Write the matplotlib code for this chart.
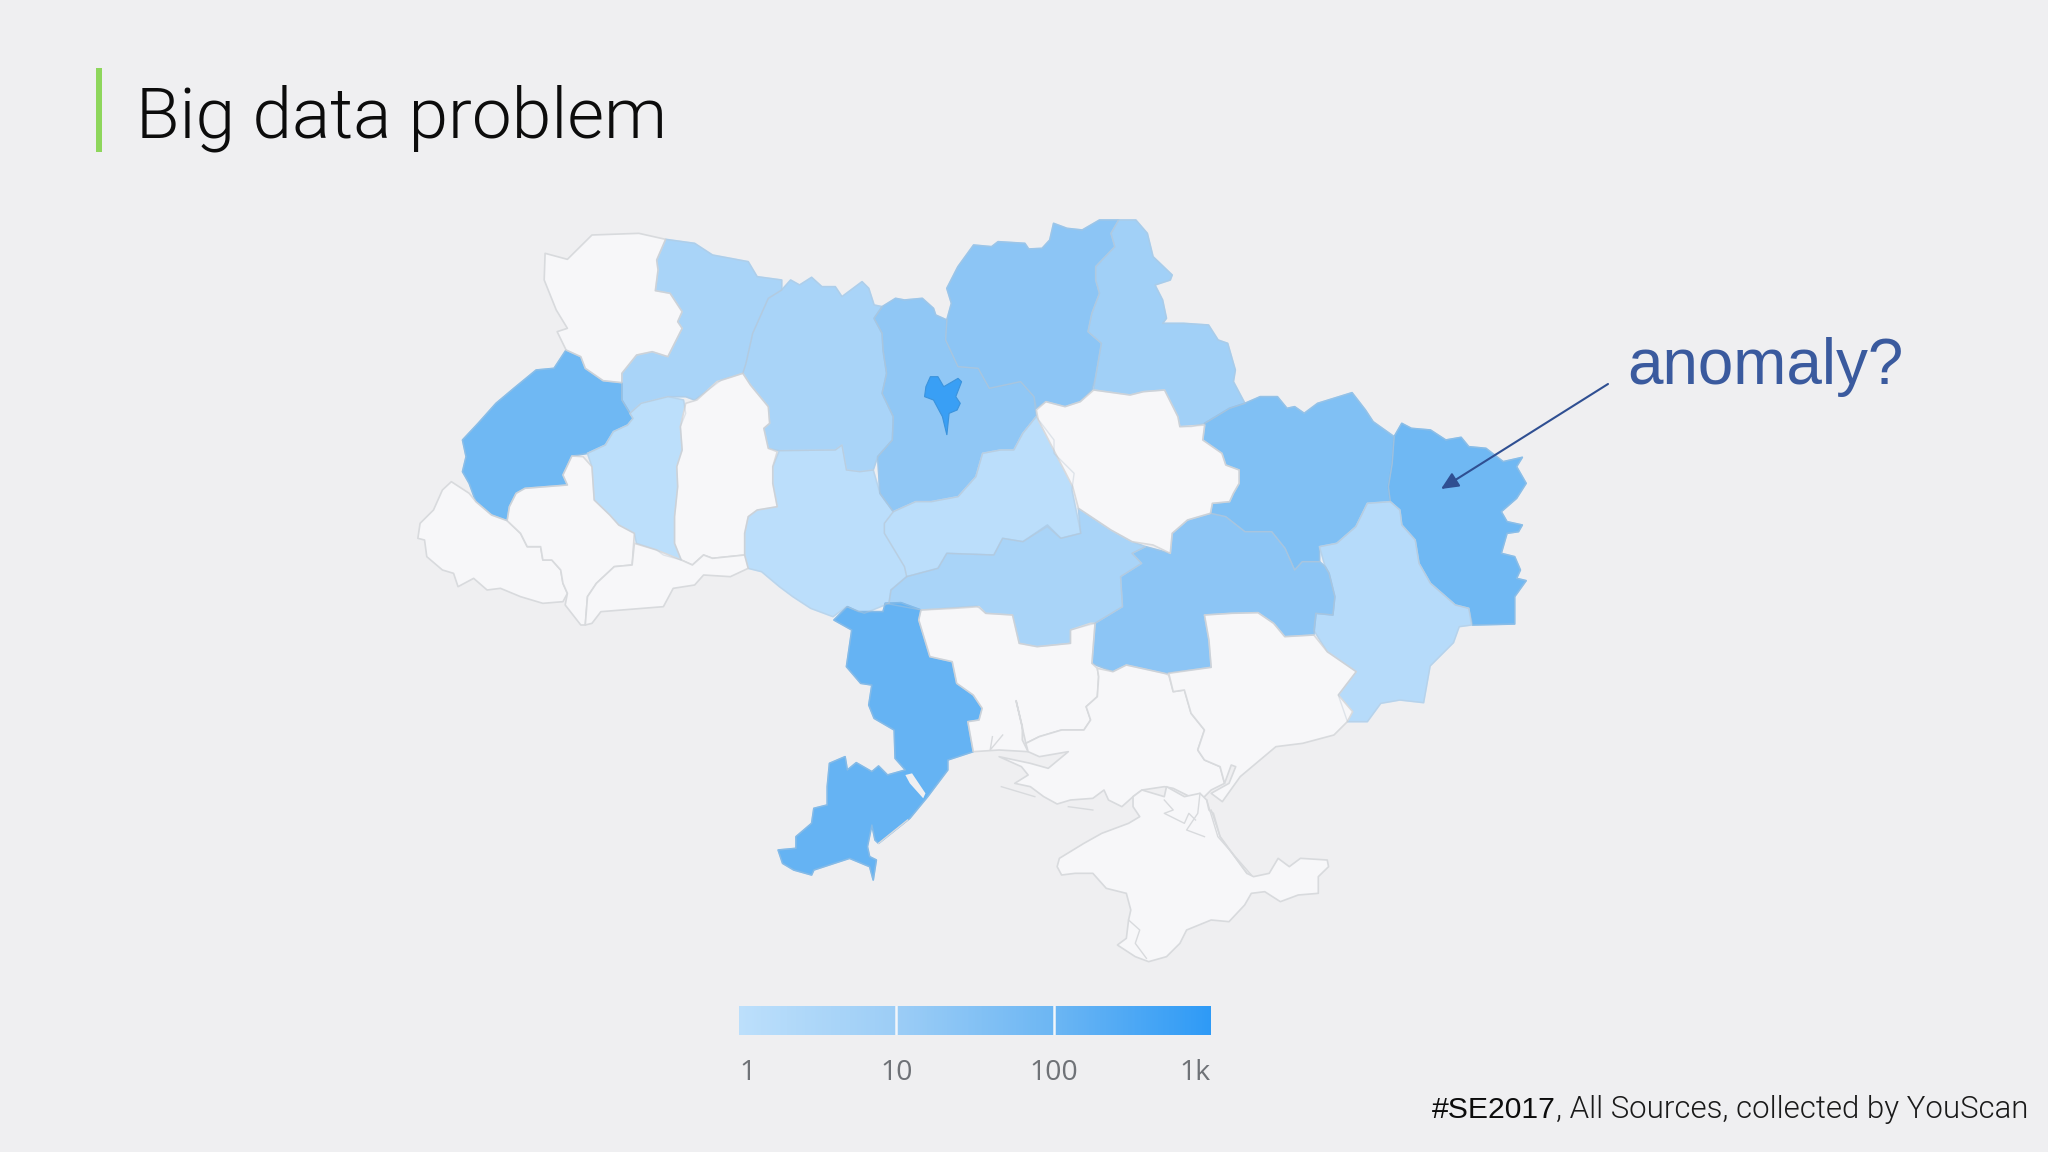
import numpy as np
import matplotlib
matplotlib.use("Agg")
import matplotlib.pyplot as plt
from matplotlib.colors import LinearSegmentedColormap, LogNorm
from matplotlib.patches import Polygon

# ---- values: estimated mention counts per region (0 = no data)
VOLYN = 0; RIVNE = 4; LVIV = 85; TERNOPIL = 1; KHMELNYTSKY = 0; ZHYTOMYR = 4
VINNYTSIA = 1.1; ZAKARPATTIA = 0; FRANKIVSK = 0; CHERNIVTSI = 0; KYIV_OBL = 18
KYIV_CITY = 650; CHERNIHIV = 22; SUMY = 7; POLTAVA = 0; KHARKIV = 38; LUHANSK = 85
DONETSK = 1.6; DNIPRO = 22; KIROVOHRAD = 4; CHERKASY = 1.1; ODESA = 130
MYKOLAIV = 0; KHERSON = 0; ZAPORIZHZHIA = 0; CRIMEA = 0
LEGEND_TICKS = [1, 10, 100, 1000]
LEGEND_LABELS = ["1", "10", "100", "1k"]
TITLE = "Big data problem"
NOTE = "anomaly?"
SOURCE_BOLD = "#SE2017"
SOURCE_REST = ", All Sources, collected by YouScan"

volyn = [(325,160),(375,178),(430,105),(535,100),(595,118),(575,180),(578,210),(572,272),(605,280),(632,335),(622,365),(632,385),(600,470),(565,455),(530,465),(497,520),(497,548),(455,542),(415,505),(405,470),(372,450),(352,395),(375,385),(350,330),(323,240)]
rivne = [(595,118),(660,130),(700,165),(780,185),(800,230),(855,240),(855,270),(825,295),(790,400),(775,490),(768,520),(720,540),(660,600),(640,590),(600,590),(540,610),(515,640),(497,600),(497,520),(530,465),(565,455),(600,470),(632,385),(622,365),(632,335),(605,280),(572,272),(578,210),(575,180)]
lviv = [(372,450),(405,470),(415,505),(455,542),(497,548),(497,600),(522,655),(510,675),(478,695),(460,735),(420,760),(385,768),(365,825),(375,855),(280,865),(260,880),(245,920),(240,962),(205,945),(170,905),(155,850),(140,815),(148,770),(140,720),(175,670),(215,610),(255,565),(305,510),(345,505)]
ternopil = [(540,610),(600,590),(635,600),(640,640),(628,680),(632,750),(620,800),(622,860),(615,950),(615,1030),(630,1080),(590,1065),(575,1050),(530,1030),(525,1000),(490,975),(470,945),(435,900),(430,800),(420,760),(460,735),(478,695),(510,675),(522,655),(515,640)]
khmelnytsky = [(768,520),(785,555),(825,620),(828,670),(815,685),(825,745),(845,755),(835,800),(835,850),(845,920),(800,930),(780,950),(772,1000),(772,1065),(700,1075),(680,1065),(655,1095),(630,1080),(615,1030),(615,950),(622,860),(620,800),(632,750),(628,680),(640,610),(665,600),(710,545),(745,530)]
zhytomyr = [(855,270),(875,240),(895,255),(922,232),(945,260),(975,260),(990,290),(1035,245),(1050,265),(1062,315),(1080,320),(1062,355),(1080,400),(1082,450),(1090,520),(1080,580),(1105,650),(1103,720),(1070,770),(1060,810),(1030,815),(1000,810),(990,735),(975,750),(850,752),(825,745),(815,685),(828,670),(825,620),(785,555),(768,520),(775,490),(790,400),(825,295)]
vinnytsia = [(850,752),(975,750),(990,735),(1000,810),(1030,815),(1060,810),(1075,880),(1105,935),(1085,970),(1085,1000),(1130,1100),(1135,1130),(1100,1170),(1095,1210),(1040,1240),(1000,1220),(970,1250),(920,1225),(880,1190),(850,1160),(810,1115),(780,1105),(772,1065),(772,1000),(780,950),(800,930),(845,920),(835,850),(835,800)]
zakarpattia = [(115,845),(155,880),(170,905),(205,945),(240,962),(270,1000),(285,1040),(315,1040),(320,1080),(340,1080),(360,1110),(365,1150),(375,1180),(365,1205),(320,1210),(270,1190),(225,1165),(195,1170),(165,1135),(130,1160),(120,1120),(95,1110),(60,1070),(55,1020),(40,1015),(45,970),(75,930),(95,870)]
frankivsk = [(280,865),(375,855),(365,825),(385,768),(410,770),(430,800),(435,900),(470,945),(490,975),(525,1000),(520,1095),(480,1100),(440,1150),(420,1190),(415,1275),(405,1275),(370,1215),(375,1180),(365,1150),(360,1110),(340,1080),(320,1080),(315,1040),(285,1040),(270,1000),(240,962),(245,920),(260,880)]
chernivtsi = [(525,1030),(575,1050),(630,1080),(655,1095),(680,1065),(700,1075),(772,1065),(780,1105),(740,1130),(680,1125),(660,1155),(612,1165),(590,1220),(450,1235),(430,1270),(415,1275),(420,1190),(440,1150),(480,1100),(520,1095)]
kyiv_obl = [(1080,320),(1110,295),(1130,300),(1170,295),(1195,325),(1200,345),(1225,360),(1222,420),(1250,500),(1295,505),(1320,565),(1390,545),(1420,590),(1425,650),(1395,700),(1375,750),(1345,750),(1305,760),(1290,830),(1250,890),(1190,905),(1155,905),(1105,935),(1075,880),(1070,770),(1103,720),(1105,650),(1080,580),(1090,520),(1082,450),(1080,400),(1062,355)]
kyiv_city = [(1188,530),(1205,530),(1218,560),(1250,535),(1258,545),(1245,590),(1255,610),(1248,630),(1230,640),(1225,705),(1215,650),(1195,600),(1175,590),(1178,560)]
cherkasy = [(1105,935),(1155,905),(1190,905),(1250,890),(1290,830),(1305,760),(1345,750),(1375,750),(1395,700),(1425,650),(1465,720),(1465,760),(1510,820),(1505,870),(1525,1000),(1480,1015),(1450,980),(1395,1025),(1350,1015),(1330,1065),(1225,1060),(1205,1105),(1135,1130),(1130,1100),(1085,1000),(1085,970)]
WEST = [("volyn",volyn,VOLYN),("rivne",rivne,RIVNE),("lviv",lviv,LVIV),("ternopil",ternopil,TERNOPIL),("khm",khmelnytsky,KHMELNYTSKY),("zhy",zhytomyr,ZHYTOMYR),("vin",vinnytsia,VINNYTSIA),("zak",zakarpattia,ZAKARPATTIA),("frank",frankivsk,FRANKIVSK),("chern",chernivtsi,CHERNIVTSI),("kyivo",kyiv_obl,KYIV_OBL),("cher",cherkasy,CHERKASY)]

chernihiv = [(-139,360),(-127,310),(-139,265),(-110,200),(-69,135),(-22,140),(-5,125),(65,130),(75,147),(110,145),(130,120),(140,70),(175,85),(215,90),(260,60),(310,60),(290,100),(300,140),(250,200),(250,240),(260,280),(240,340),(230,395),(265,430),(250,530),(240,570),(210,605),(170,620),(120,605),(95,625),(89,590),(54,545),(-28,565),(-57,505),(-110,500),(-142,420)]
sumy = [(310,60),(355,60),(385,100),(400,170),(450,225),(445,240),(405,255),(425,300),(435,355),(425,370),(480,370),(545,375),(570,420),(595,430),(615,510),(610,545),(640,610),(600,625),(535,670),(500,680),(470,680),(465,650),(430,570),(375,575),(340,585),(245,570),(250,530),(265,430),(230,395),(240,340),(260,280),(250,240),(250,200),(300,140),(290,100)]
poltava = [(95,630),(120,605),(170,620),(210,605),(245,570),(340,585),(375,575),(430,570),(465,650),(470,680),(535,675),(530,720),(580,760),(590,795),(625,810),(625,850),(610,880),(600,905),(555,910),(550,940),(490,960),(450,1000),(445,1060),(400,1035),(345,1025),(290,990),(205,925),(190,860),(145,760),(100,660)]
kharkiv = [(535,670),(600,625),(640,610),(680,590),(725,590),(750,625),(770,620),(795,640),(830,610),(920,578),(955,630),(975,665),(1030,710),(1025,790),(1015,860),(1020,905),(960,910),(930,980),(880,1030),(835,1040),(835,1085),(790,1085),(770,1110),(745,1045),(710,995),(640,995),(590,950),(550,940),(555,910),(600,905),(610,880),(625,850),(625,810),(590,795),(580,760),(530,720)]
luhansk = [(1050,670),(1075,685),(1125,690),(1165,720),(1205,712),(1225,740),(1270,745),(1315,785),(1365,772),(1350,800),(1375,850),(1350,895),(1310,935),(1325,965),(1365,975),(1355,995),(1325,1000),(1310,1060),(1345,1070),(1360,1110),(1350,1135),(1375,1142),(1345,1190),(1345,1272),(1235,1275),(1225,1225),(1190,1215),(1125,1150),(1095,1090),(1085,1020),(1050,975),(1045,930),(1020,905),(1015,860),(1025,790),(1030,710)]
donetsk = [(960,910),(1020,905),(1045,930),(1050,975),(1085,1020),(1095,1090),(1125,1150),(1190,1215),(1225,1225),(1232,1275),(1200,1280),(1185,1328),(1124,1398),(1107,1508),(1045,1500),(995,1510),(960,1565),(908,1565),(884,1485),(931,1415),(855,1355),(820,1290),(825,1240),(870,1245),(875,1190),(860,1120),(850,1100),(835,1040),(880,1030),(930,980)]
dnipro = [(550,940),(590,950),(640,995),(710,995),(745,1045),(770,1110),(790,1085),(835,1085),(850,1100),(860,1120),(875,1190),(870,1245),(826,1240),(820,1305),(744,1310),(715,1270),(674,1238),(604,1240),(534,1245),(546,1320),(552,1402),(429,1420),(330,1395),(295,1415),(240,1390),(248,1270),(320,1220),(315,1130),(370,1090),(345,1060),(380,1040),(445,1060),(450,1000),(490,960)]
kirovohrad = [(-290,1210),(-285,1170),(-244,1130),(-162,1105),(-139,1060),(-16,1065),(7,1015),(60,1025),(124,975),(159,1015),(211,1000),(205,925),(290,990),(345,1025),(380,1040),(345,1060),(370,1090),(315,1130),(320,1220),(248,1270),(184,1290),(184,1330),(97,1340),(50,1330),(33,1245),(-37,1240),(-61,1218),(-206,1230),(-300,1210)]
EAST = [("chn",chernihiv,CHERNIHIV),("sumy",sumy,SUMY),("pol",poltava,POLTAVA),("kha",kharkiv,KHARKIV),("lug",luhansk,LUHANSK),("don",donetsk,DONETSK),("dni",dnipro,DNIPRO),("kir",kirovohrad,KIROVOHRAD)]

odesa = [(300,120),(330,80),(355,95),(410,95),(415,70),(450,68),(495,90),(490,120),(515,230),(565,245),(575,310),(612,345),(632,385),(625,420),(600,425),(612,515),(555,540),(555,570),(510,650),(470,715),(400,790),(392,780),(385,735),(375,800),(380,830),(395,840),(388,900),(380,860),(335,835),(255,870),(250,885),(210,870),(185,850),(175,810),(215,805),(215,770),(250,730),(255,685),(285,675),(285,620),(290,550),(325,530),(330,570),(350,548),(385,575),(400,558),(420,585),(460,570),(437,535),(435,450),(390,415),(378,375),(385,315),(360,310),(328,260),(340,150)]
mykolaiv = [(495,90),(570,85),(625,80),(640,100),(700,105),(715,190),(755,200),(830,190),(830,150),(875,130),(885,130),(878,250),(890,265),(893,290),(890,350),(865,380),(875,420),(860,450),(810,450),(760,470),(730,490),(718,420),(708,362),(722,440),(722,480),(735,515),(670,510),(612,515),(600,425),(625,420),(632,385),(612,345),(575,310),(565,245),(515,230),(490,120)]
kherson = [(890,265),(925,275),(955,255),(1040,280),(1050,285),(1060,335),(1085,330),(1100,400),(1130,450),(1115,510),(1130,540),(1165,560),(1175,610),(1145,630),(1130,650),(1105,655),(1060,625),(1040,620),(990,630),(970,650),(945,680),(915,660),(905,630),(880,655),(830,660),(800,672),(770,650),(740,620),(705,610),(735,585),(720,560),(670,530),(740,550),(780,565),(825,515),(760,530),(735,515),(730,490),(760,470),(810,450),(860,450),(875,420),(865,380),(890,350),(893,290)]
zaporizhzhia = [(1050,280),(1145,262),(1140,180),(1130,105),(1190,100),(1250,98),(1285,130),(1310,170),(1375,165),(1405,215),(1470,275),(1430,345),(1462,395),(1450,425),(1420,465),(1350,490),(1290,500),(1210,590),(1170,665),(1145,640),(1185,610),(1200,560),(1190,555),(1175,610),(1165,560),(1130,540),(1115,510),(1130,450),(1100,400),(1085,330),(1060,335)]
crimea = [(970,650),(990,630),(1040,650),(1045,620),(1085,650),(1120,640),(1135,660),(1140,690),(1150,700),(1165,770),(1225,880),(1240,890),(1275,880),(1295,835),(1320,860),(1345,835),(1405,840),(1408,860),(1385,890),(1385,940),(1340,945),(1300,965),(1265,935),(1235,940),(1220,975),(1185,1025),(1145,1020),(1090,1050),(1075,1090),(1045,1130),(1005,1145),(975,1130),(935,1095),(955,1075),(960,1020),(965,990),(955,940),(910,925),(880,880),(840,880),(810,885),(800,860),(805,835),(860,790),(900,760),(960,730),(985,710),(970,680)]
SOUTH = [("ode",odesa,ODESA),("myk",mykolaiv,MYKOLAIV),("khe",kherson,KHERSON),("zap",zaporizhzhia,ZAPORIZHZHIA),("cri",crimea,CRIMEA)]
lagoon = [(460,585),(475,580),(505,640),(500,655),(470,610)]
coast_lines = [[(675,620),(750,650)],[(825,680),(880,690)],[(1145,690),(1165,770),(1225,880)],[(1135,660),(1160,770),(1235,885)],[(1040,660),(1060,690),(1040,700),(1085,730),(1095,700),(1110,720)],[(1120,640),(1115,700),(1090,750),(1130,770)],[(960,1020),(985,1050),(975,1090),(1000,1135)],[(655,470),(650,510),(678,465)],[(400,790),(465,720)]]

BG = "#efeff1"
cmap = LinearSegmentedColormap.from_list("map", ["#bcdffb", "#9ccdf6", "#6cb6f3", "#2e9af6"])
norm = LogNorm(1, 1000)
NO_DATA = "#f7f7f9"
EDGE = "#d8dadd"

def to_px(points, cx, cy, sx, sy=3.0):
    arr = np.asarray(points, float)
    return np.column_stack((cx + arr[:, 0] / sx, cy + arr[:, 1] / sy))

def region_color(v):
    return NO_DATA if v == 0 else cmap(norm(v))

fig = plt.figure(figsize=(20.48, 11.52), dpi=100, facecolor=BG)
ax = fig.add_axes([0, 0, 1, 1])
ax.set_xlim(0, 2048); ax.set_ylim(1152, 0); ax.axis("off")

W = (400, 200, 1568 / 700)
E = (1000, 200, 1568 / 600)
S = (700, 580, 1568 / 700)
for group, crop in ((WEST, W), (EAST, E), (SOUTH, S)):
    for name, pts, v in group:
        col = region_color(v)
        ax.add_patch(Polygon(to_px(pts, *crop), closed=True, facecolor=col, edgecolor=EDGE if v == 0 else col,
                             lw=1.2, joinstyle="round", zorder=2 if v else 3))
for group, crop in ((WEST, W), (EAST, E), (SOUTH, S)):
    for name, pts, v in group:
        if v:
            ax.add_patch(Polygon(to_px(pts, *crop), closed=True, fill=False, edgecolor="#b9c6d3", alpha=0.4,
                                 lw=1.0, joinstyle="round", zorder=4))
ax.add_patch(Polygon(to_px(kyiv_city, *W), closed=True, facecolor=cmap(norm(KYIV_CITY)), edgecolor="#3b93dc", lw=0.8, zorder=6))
ax.add_patch(Polygon(to_px(lagoon, *S), closed=True, facecolor=BG, edgecolor="none", zorder=6))
for line in coast_lines:
    p = to_px(line, *S)
    ax.plot(p[:, 0], p[:, 1], color="#d8dadd", lw=1.0, zorder=6)

# title accent
ax.fill_between([96, 102], 68, 152, color="#8ed65c", lw=0, zorder=5)
ax.text(136, 118, TITLE, fontsize=51.2, family="Roboto", fontweight=300, color="#0c0c0c", va="center", ha="left")
ax.text(1627, 367, NOTE, fontsize=45.9, family="Liberation Sans", color="#3a5a9e", va="center", ha="left")
ax.annotate("", xy=(1441, 489), xytext=(1608, 384),
            arrowprops=dict(arrowstyle="-|>,head_length=0.7,head_width=0.32", color="#2f4f92", lw=1.5,
                            mutation_scale=15, shrinkA=0, shrinkB=0), zorder=8)

t1 = ax.text(1432, 1110, SOURCE_BOLD, fontsize=21.7, family="Liberation Sans", color="#0c0c0c", va="center", ha="left")
ax.annotate(SOURCE_REST, xy=(1, 0.5), xycoords=t1, va="center", ha="left", fontsize=22.5, family="Roboto",
            fontweight=300, color="#1a1a1a")

# legend
leg = fig.add_axes([739 / 2048, 1 - 1035 / 1152, 472 / 2048, 29 / 1152])
xs = np.logspace(0, 3, 257)
leg.pcolormesh(xs, [0, 1], np.sqrt(xs[:-1] * xs[1:])[None, :], cmap=cmap, norm=norm, shading="flat", rasterized=True)
leg.set_xscale("log"); leg.set_xlim(1, 1000); leg.set_ylim(0, 1)
leg.set_yticks([]); leg.minorticks_off()
leg.set_xticks(LEGEND_TICKS, LEGEND_LABELS, fontsize=20.5, family="Open Sans", color="#6f7277")
leg.tick_params(axis="x", length=0, pad=17)
labels = leg.get_xticklabels()
labels[0].set_ha("left"); labels[-1].set_ha("right")
for s in leg.spines.values():
    s.set_visible(False)
for v in LEGEND_TICKS[1:-1]:
    leg.axvline(v, color="#f2f6fa", lw=1.8)

fig.savefig("out.png", dpi=100, facecolor=BG)
